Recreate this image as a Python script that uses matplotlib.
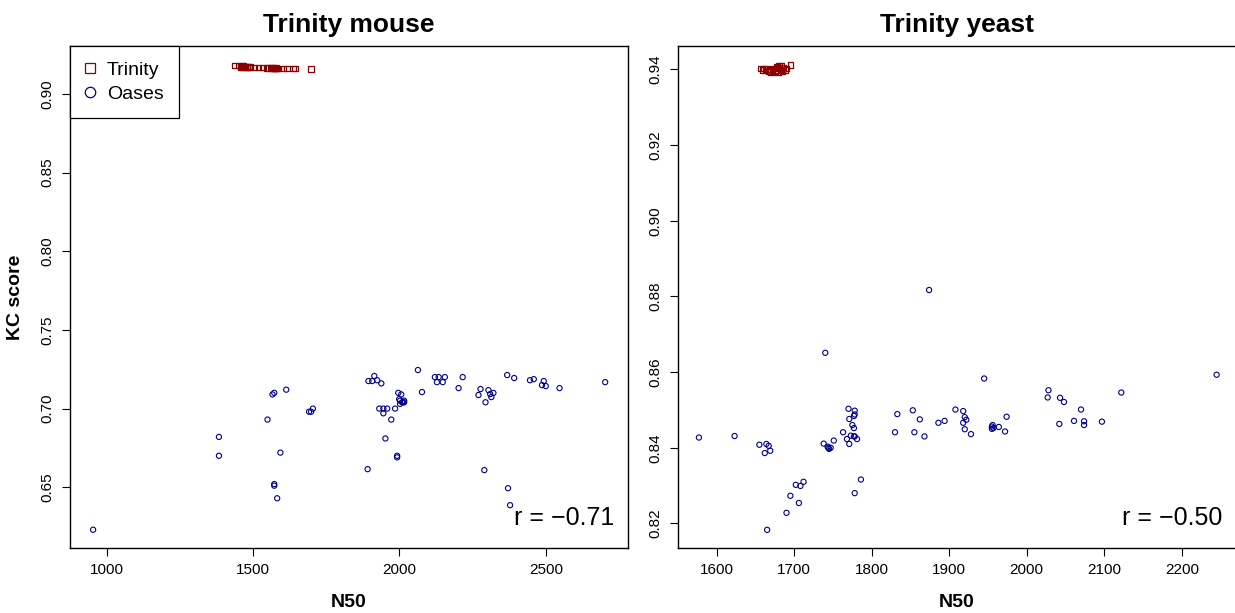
import matplotlib
matplotlib.use("Agg")
import matplotlib.pyplot as plt
from matplotlib.lines import Line2D

plt.rcParams["font.family"] = ["Liberation Sans", "DejaVu Sans"]

# ---- Trinity mouse ----
mouse_trinity_n50 = [1437, 1450, 1458, 1461, 1465, 1467, 1472, 1474, 1478, 1481, 1485, 1488,
                     1491, 1505, 1518, 1532, 1545, 1555, 1560, 1562, 1566, 1569, 1573, 1576,
                     1580, 1582, 1586, 1603, 1616, 1637, 1643, 1698]
mouse_trinity_kc = [0.9181, 0.9180, 0.9172, 0.9178, 0.9170, 0.9176, 0.9168, 0.9174, 0.9171, 0.9166,
                    0.9173, 0.9167, 0.9170, 0.9168, 0.9167, 0.9166, 0.9165, 0.9163, 0.9166, 0.9161,
                    0.9164, 0.9162, 0.9165, 0.9160, 0.9163, 0.9161, 0.9162, 0.9160, 0.9160, 0.9161,
                    0.9160, 0.9159]

mouse_oases_n50 = [953, 1383, 1383, 1549, 1566, 1572, 1613, 1593, 1572, 1572, 1582, 1691, 1704, 1698,
                   1894, 1907, 1914, 1924, 1938, 1891, 1931, 1945, 1958, 1945, 1952, 1972, 1985,
                   1992, 1992, 1996, 2006, 1999, 2009, 2002, 2016, 2002, 2016, 2012,
                   2063, 2077, 2121, 2134, 2155, 2128, 2148, 2202, 2216,
                   2270, 2277, 2294, 2304, 2310, 2314, 2321, 2290, 2368, 2392, 2371, 2378,
                   2446, 2459, 2493, 2487, 2500, 2547, 2703]
mouse_oases_kc = [0.623, 0.682, 0.670, 0.693, 0.709, 0.710, 0.712, 0.672, 0.652, 0.651, 0.643, 0.698,
                  0.700, 0.698,
                  0.7175, 0.7175, 0.7207, 0.718, 0.716, 0.6615, 0.700, 0.700, 0.700, 0.697, 0.681,
                  0.693, 0.700, 0.670, 0.669, 0.710, 0.709, 0.706, 0.704, 0.705, 0.704, 0.703,
                  0.705, 0.704,
                  0.7245, 0.7105, 0.720, 0.720, 0.720, 0.7168, 0.7168, 0.713, 0.720,
                  0.7086, 0.7124, 0.704, 0.7117, 0.7092, 0.7073, 0.7099, 0.6609, 0.7213, 0.7194,
                  0.6494, 0.6386, 0.718, 0.7187, 0.7175, 0.7149, 0.7143, 0.713, 0.7168]

# ---- Trinity yeast ----
yeast_trinity_n50 = [1657, 1659, 1661, 1663, 1665, 1667, 1668, 1670, 1672, 1673, 1675, 1676, 1677,
                     1678, 1679, 1680, 1681, 1682, 1683, 1684, 1685, 1686, 1688, 1690, 1695]
yeast_trinity_kc = [0.9402, 0.9399, 0.9403, 0.9397, 0.9401, 0.9396, 0.9400, 0.9394, 0.9398, 0.9402,
                    0.9395, 0.9399, 0.9405, 0.9408, 0.9394, 0.9410, 0.9403, 0.9397, 0.9409, 0.9400,
                    0.9395, 0.9404, 0.9398, 0.9402, 0.9412]

yeast_oases_n50 = [1577, 1623, 1655, 1664, 1667, 1662, 1669, 1665, 1690, 1695, 1706, 1702, 1708,
                   1712, 1740, 1738, 1743, 1745, 1747, 1744, 1751, 1763, 1768, 1771, 1770, 1771,
                   1778, 1777, 1778, 1775, 1777, 1773, 1778, 1781, 1777, 1786, 1778,
                   1830, 1833, 1853, 1855, 1862, 1868, 1886, 1874, 1945, 1894, 1908, 1918, 1920,
                   1922, 1918, 1920, 1928, 1955, 1956, 1955, 1957, 1964, 1972, 1974,
                   2027, 2028, 2043, 2048, 2042, 2061, 2070, 2074, 2074, 2097, 2122, 2245]
yeast_oases_kc = [0.8427, 0.8431, 0.8408, 0.8410, 0.8405, 0.8386, 0.8392, 0.8183, 0.8228, 0.8273,
                  0.8254, 0.8302, 0.8299, 0.8310, 0.8651, 0.8411, 0.8403, 0.8397, 0.8400, 0.8400,
                  0.8419, 0.8441, 0.8423, 0.8410, 0.8503, 0.8476, 0.8498, 0.8484, 0.8488, 0.8460,
                  0.8452, 0.8432, 0.8430, 0.8423, 0.8430, 0.8316, 0.8280,
                  0.8441, 0.8489, 0.8499, 0.8441, 0.8475, 0.8430, 0.8466, 0.8817, 0.8583, 0.8471,
                  0.8501, 0.8497, 0.8481, 0.8474, 0.8466, 0.8449, 0.8436, 0.8456, 0.8460, 0.8450,
                  0.8452, 0.8455, 0.8443, 0.8482,
                  0.8533, 0.8552, 0.8532, 0.8521, 0.8463, 0.8471, 0.8501, 0.8470, 0.8460, 0.8469,
                  0.8546, 0.8593]

mouse_r = "r = \u22120.71"
yeast_r = "r = \u22120.50"

red = "#8B0000"
blue = "#00008B"

fig = plt.figure(figsize=(12.35, 6.13), dpi=100)
ax1 = fig.add_axes([70 / 1235, 65 / 613, 558 / 1235, 502 / 613])
ax2 = fig.add_axes([678 / 1235, 65 / 613, 558 / 1235, 502 / 613])


def style(ax):
    for s in ax.spines.values():
        s.set_linewidth(1.0)
    ax.tick_params(direction="out", length=6, width=0.8, labelsize=11, pad=5)
    for lab in ax.get_yticklabels():
        lab.set_rotation(90)
        lab.set_va("center")


# left panel
ax1.scatter(mouse_trinity_n50, mouse_trinity_kc, marker="s", s=16, facecolors="none",
            edgecolors=red, linewidths=0.9)
ax1.scatter(mouse_oases_n50, mouse_oases_kc, marker="o", s=14, facecolors="none",
            edgecolors=blue, linewidths=0.8)
ax1.set_xlim(874, 2781)
ax1.set_ylim(0.6114, 0.9304)
ax1.set_xticks([1000, 1500, 2000, 2500])
ax1.set_yticks([0.65, 0.70, 0.75, 0.80, 0.85, 0.90])
ax1.set_yticklabels(["0.65", "0.70", "0.75", "0.80", "0.85", "0.90"])
ax1.set_title("Trinity mouse", fontsize=19, fontweight="bold", pad=10)
ax1.set_xlabel("N50", fontsize=14, fontweight="bold", labelpad=12)
ax1.set_ylabel("KC score", fontsize=14, fontweight="bold", labelpad=12)
ax1.text(0.975, 0.035, mouse_r, transform=ax1.transAxes, ha="right", va="bottom", fontsize=18)
style(ax1)

handles = [Line2D([], [], marker="s", ls="none", mfc="none", mec=red, ms=7.5, mew=0.9),
           Line2D([], [], marker="o", ls="none", mfc="none", mec=blue, ms=7.5, mew=0.9)]
leg = ax1.legend(handles, ["Trinity", "Oases"], loc="upper left", fontsize=14,
                 fancybox=False, edgecolor="black", framealpha=1, borderaxespad=0,
                 handletextpad=0.6, handlelength=0.5, borderpad=0.8, labelspacing=0.3)
leg.get_frame().set_linewidth(0.9)

# right panel
ax2.scatter(yeast_trinity_n50, yeast_trinity_kc, marker="s", s=16, facecolors="none",
            edgecolors=red, linewidths=0.9)
ax2.scatter(yeast_oases_n50, yeast_oases_kc, marker="o", s=14, facecolors="none",
            edgecolors=blue, linewidths=0.8)
ax2.set_xlim(1550, 2270)
ax2.set_ylim(0.8135, 0.9462)
ax2.set_xticks([1600, 1700, 1800, 1900, 2000, 2100, 2200])
ax2.set_yticks([0.82, 0.84, 0.86, 0.88, 0.90, 0.92, 0.94])
ax2.set_yticklabels(["0.82", "0.84", "0.86", "0.88", "0.90", "0.92", "0.94"])
ax2.set_title("Trinity yeast", fontsize=19, fontweight="bold", pad=10)
ax2.set_xlabel("N50", fontsize=14, fontweight="bold", labelpad=12)
ax2.text(0.975, 0.035, yeast_r, transform=ax2.transAxes, ha="right", va="bottom", fontsize=18)
style(ax2)

fig.savefig("out.png", dpi=100)
